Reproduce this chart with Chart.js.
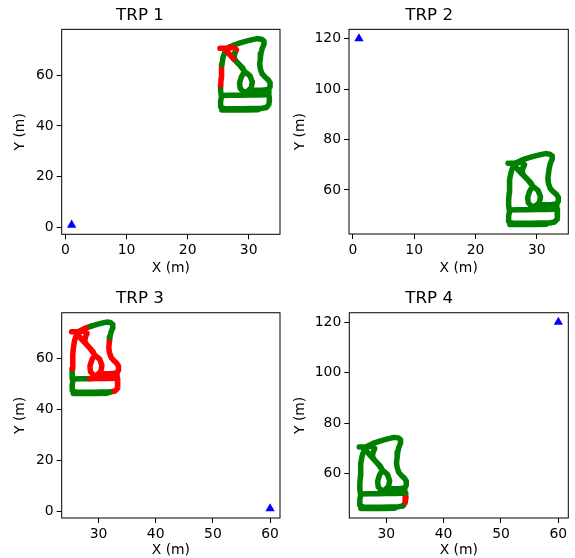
<!DOCTYPE html>
<html>
<head>
<meta charset="utf-8">
<script src="https://cdn.jsdelivr.net/npm/chart.js@4"></script>
<style>
body { margin:0; background:#fff; }
#wrap { position:relative; width:575px; height:558px; }
canvas { position:absolute; }
</style>
</head>
<body>
<div id="wrap">
<canvas id="trp1" width="290" height="279" style="left:0;top:0"></canvas>
<canvas id="trp2" width="285" height="279" style="left:290px;top:0"></canvas>
<canvas id="trp3" width="290" height="279" style="left:0;top:279px"></canvas>
<canvas id="trp4" width="285" height="279" style="left:290px;top:279px"></canvas>
</div>
<script>
// walked trajectory (m), null = break between strokes
var pathX = [
    25.5, 25.4, 25.4, 25.5, 25.5, 25.6, 25.8, 26.2, 26.8, 27.6,
    28.6, 29.6, 30.6, 31.4, 32.1, 32.5, 32.5, 32.2, 32.0, 31.9,
    31.8, 31.9, 32.2, 32.7, 33.2, 33.5, 33.5, 33.2, 33.3, 33.4,
    33.3, 32.9, 32.0, 30.5, 29.0, 27.5, 26.0, 25.4, 25.4, 25.6,
    27.0, 28.5, 30.0, 31.5, 32.8, null,
    25.3, 26.4, 27.5, 28.0, 27.7, 27.6, 28.0, 28.6, 29.3, 30.2,
    30.6, 30.4, 29.8, 29.1, 28.6, 28.5, 28.8, 29.3, 29.0, 28.3,
    27.5, 26.8, 26.3, null,
    30.0, 31.0, 32.2, 33.2, null,
    25.6, 27.5, 29.5, 31.5
];
var pathY = [
    52.0, 54.0, 56.0, 59.0, 61.5, 64.0, 67.0, 69.8, 71.0, 71.9,
    72.7, 73.4, 74.0, 74.4, 74.2, 73.4, 72.2, 70.5, 68.5, 66.5,
    64.5, 62.5, 60.5, 59.2, 58.2, 57.0, 55.5, 54.3, 52.3, 50.5,
    48.5, 47.3, 46.9, 46.9, 46.8, 46.8, 46.9, 47.5, 49.8, 52.0,
    52.1, 52.1, 52.2, 52.2, 52.3, null,
    70.6, 70.7, 70.9, 70.0, 68.5, 66.8, 65.3, 63.8, 61.5, 59.8,
    57.3, 55.0, 53.5, 53.5, 54.9, 57.0, 59.3, 61.5, 62.9, 64.6,
    66.5, 68.3, 70.2, null,
    54.0, 54.1, 54.1, 54.4, null,
    46.3, 46.3, 46.3, 46.4
];

// red (blocked) stretches per TRP, as [from, to) point index
var redRuns = [
    [[2, 5], [7, 8], [46, 50], [66, 68]],
    [],
    [[2, 10], [19, 32], [41, 44], [46, 68], [70, 73]],
    [[29, 31]]
];

var trpX = [1, 1, 60, 60];
var trpY = [1, 120, 1, 120];
var titles = ["TRP 1", "TRP 2", "TRP 3", "TRP 4"];

var xTicksA = [0, 10, 20, 30];
var xTicksB = [30, 40, 50, 60];
var yTicksA = [0, 20, 40, 60];
var yTicksB = [60, 80, 100, 120];

var FONT = "DejaVu Sans";

var panels = [
    {id:"trp1", xr:[-0.625, 35.125], yr:[-2.67, 78.07], xt:xTicksA, yt:yTicksA,
     yw:61.7, xh:44.7, padR:10, tTop:5.7, tBot:3.6, xPad:2, yPad:12.4},
    {id:"trp2", xr:[-0.625, 35.125], yr:[42.51, 123.69], xt:xTicksA, yt:yTicksB,
     yw:59, xh:45, padR:6.7, tTop:5.7, tBot:3.6, xPad:2, yPad:2.5},
    {id:"trp3", xr:[23.565, 61.735], yr:[-2.67, 78.07], xt:xTicksB, yt:yTicksA,
     yw:61.7, xh:40, padR:10, tTop:10, tBot:3.7, xPad:-1.2, yPad:12.4},
    {id:"trp4", xr:[23.565, 61.735], yr:[42.51, 123.69], xt:xTicksB, yt:yTicksB,
     yw:59.3, xh:40, padR:6.7, tTop:10, tBot:3.7, xPad:-1.2, yPad:2.5}
];

function isRed(runs, i){
    for (var k = 0; k < runs.length; k++) {
        if (i >= runs[k][0] && i < runs[k][1]) return true;
    }
    return false;
}

// matplotlib style box around the axes
var frame = {
    id: "frame",
    afterDatasetsDraw: function(chart){
        var a = chart.chartArea, ctx = chart.ctx;
        ctx.save();
        ctx.strokeStyle = "#000";
        ctx.lineWidth = 1;
        ctx.strokeRect(a.left, a.top, a.right - a.left, a.bottom - a.top);
        ctx.restore();
    }
};

var points = [];
for (var i = 0; i < pathX.length; i++) {
    points.push({x: pathX[i], y: pathY[i]});
}

panels.forEach(function(p, n){
    var runs = redRuns[n];
    var tickList = function(vals){ return function(s){ s.ticks = vals.map(function(v){ return {value:v}; }); }; };

    new Chart(document.getElementById(p.id), {
        type: "scatter",
        data: {
            datasets: [{
                data: points,
                showLine: true,
                borderColor: "#008000",
                borderWidth: 5.5,
                borderCapStyle: "round",
                borderJoinStyle: "round",
                pointRadius: 0,
                segment: {
                    borderColor: function(c){ return isRed(runs, c.p0DataIndex) ? "#ff0000" : "#008000"; }
                }
            }, {
                data: [{x: trpX[n], y: trpY[n]}],
                pointStyle: "triangle",
                pointRadius: 5.4,
                backgroundColor: "#0000ff",
                borderColor: "#0000ff",
                borderWidth: 0
            }]
        },
        plugins: [frame],
        options: {
            responsive: false,
            animation: false,
            layout: { padding: {left:0, right:p.padR, top:0, bottom:0} },
            plugins: {
                legend: { display:false },
                tooltip: { enabled:false },
                title: {
                    display: true,
                    text: titles[n],
                    color: "#000",
                    font: { family:FONT, size:16.7, weight:"normal" },
                    padding: { top:p.tTop, bottom:p.tBot }
                }
            },
            scales: {
                x: {
                    type: "linear",
                    min: p.xr[0], max: p.xr[1],
                    afterBuildTicks: tickList(p.xt),
                    afterFit: function(s){ s.height = p.xh; },
                    border: { display:false },
                    grid: { drawOnChartArea:false, drawTicks:true, tickLength:5, color:"#000", lineWidth:1 },
                    ticks: { color:"#000", padding:3, autoSkip:false, maxRotation:0, font:{family:FONT, size:13.9} },
                    title: { display:true, text:"X (m)", color:"#000", font:{family:FONT, size:13.9}, padding:{top:0, bottom:p.xPad} }
                },
                y: {
                    type: "linear",
                    min: p.yr[0], max: p.yr[1],
                    afterBuildTicks: tickList(p.yt),
                    afterFit: function(s){ s.width = p.yw; },
                    border: { display:false },
                    grid: { drawOnChartArea:false, drawTicks:true, tickLength:5, color:"#000", lineWidth:1 },
                    ticks: { color:"#000", padding:3, font:{family:FONT, size:13.9} },
                    title: { display:true, text:"Y (m)", color:"#000", font:{family:FONT, size:13.9}, padding:{top:p.yPad, bottom:0} }
                }
            }
        }
    });
});
</script>
</body>
</html>
